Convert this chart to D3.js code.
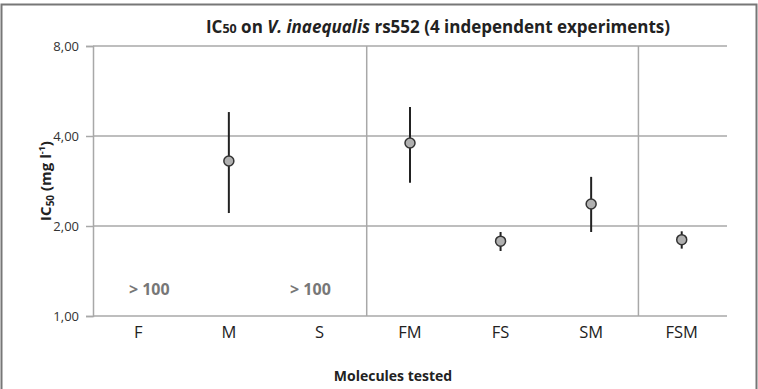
<!DOCTYPE html>
<html><head><meta charset="utf-8">
<script src="https://cdn.jsdelivr.net/npm/d3@7"></script>
<style>body{margin:0;background:#fff}svg{display:block}</style>
</head><body>
<script>
const categories = ["F","M","S","FM","FS","SM","FSM"];
const ic50 = [null, 3.30, null, 3.79, 1.78, 2.37, 1.80];
const errLow = [null, 2.21, null, 2.79, 1.65, 1.91, 1.68];
const errHigh = [null, 4.81, null, 5.00, 1.91, 2.92, 1.92];
const yTicks = [1, 2, 4, 8];
const noEffect = [{cat:"F", label:"> 100", v:1.23, dx:11}, {cat:"S", label:"> 100", v:1.23, dx:-9}];
const separators = [3, 6]; // band boundaries (category index)

const W = 758, H = 389;
const m = {l:93, r:31, t:46, b:73};
const svg = d3.select("body").append("svg").attr("width", W).attr("height", H);
const font = "'Open Sans', sans-serif";

// frame
svg.append("path").attr("d", `M1.5,${H} V4.5 H756.5 V${H}`).attr("fill","none").attr("stroke","#777").attr("stroke-width",2);

const x = d3.scaleBand().domain(categories).range([m.l, W - m.r]);
const y = d3.scaleLog().base(2).domain([1, 8]).range([H - m.b, m.t]);

// gridlines
svg.append("g").selectAll("line").data(yTicks).join("line")
  .attr("x1", m.l).attr("x2", W - m.r).attr("y1", d => y(d)).attr("y2", d => y(d))
  .attr("stroke", "#a8a8a8").attr("stroke-width", 1.5);

// y axis
const yAxis = svg.append("g").attr("transform", `translate(${m.l},0)`)
  .call(d3.axisLeft(y).tickValues(yTicks).tickFormat(d => d3.format(".2f")(d).replace(".", ",")).tickSize(7).tickPadding(7));
yAxis.select(".domain").attr("stroke", "#a8a8a8").attr("stroke-width", 1.5);
yAxis.selectAll(".tick line").attr("stroke", "#a8a8a8").attr("stroke-width", 1.5);
yAxis.selectAll("text").attr("font-family", font).attr("font-size", 13).attr("fill", "#333");

// separators
svg.append("g").selectAll("line").data(separators).join("line")
  .attr("x1", d => m.l + x.step() * d + 2).attr("x2", d => m.l + x.step() * d + 2)
  .attr("y1", m.t).attr("y2", H - m.b)
  .attr("stroke", "#a8a8a8").attr("stroke-width", 1.5);

// x axis labels
const xAxis = svg.append("g").attr("transform", `translate(0,${H - m.b})`)
  .call(d3.axisBottom(x).tickSize(0).tickPadding(10));
xAxis.select(".domain").remove();
xAxis.selectAll("text").attr("font-family", font).attr("font-size", 16.5).attr("fill", "#222");

// error bars
const pts = categories.map((c, i) => ({c, v: ic50[i], lo: errLow[i], hi: errHigh[i]})).filter(d => d.v != null);
svg.append("g").selectAll("line").data(pts).join("line")
  .attr("x1", d => x(d.c) + x.bandwidth()/2).attr("x2", d => x(d.c) + x.bandwidth()/2)
  .attr("y1", d => y(d.lo)).attr("y2", d => y(d.hi))
  .attr("stroke", "#222").attr("stroke-width", 2);
svg.append("g").selectAll("circle").data(pts).join("circle")
  .attr("cx", d => x(d.c) + x.bandwidth()/2).attr("cy", d => y(d.v)).attr("r", 5)
  .attr("fill", "#b0b0b0").attr("stroke", "#333").attr("stroke-width", 1.5);

// > 100 labels
svg.append("g").selectAll("text").data(noEffect).join("text")
  .attr("x", d => x(d.cat) + x.bandwidth()/2 + d.dx).attr("y", d => y(d.v)).attr("dy", "0.35em")
  .attr("text-anchor", "middle").attr("font-family", font).attr("font-weight", "bold")
  .attr("font-size", 16).attr("fill", "#777").text(d => d.label);

// title
const t = svg.append("text").attr("x", 438).attr("y", 33).attr("text-anchor", "middle")
  .attr("font-family", font).attr("font-weight", "bold").attr("font-size", 17).attr("fill", "#222");
t.append("tspan").text("IC");
t.append("tspan").attr("font-size", 12.5).text("50");
t.append("tspan").text(" on ");
t.append("tspan").attr("font-style", "italic").text("V. inaequalis");
t.append("tspan").text(" rs552 (4 independent experiments)");

// y label
const yl = svg.append("text").attr("transform", `translate(51,${(m.t + H - m.b)/2}) rotate(-90)`)
  .attr("text-anchor", "middle").attr("font-family", font).attr("font-weight", "bold")
  .attr("font-size", 15).attr("fill", "#222");
yl.append("tspan").text("IC");
yl.append("tspan").attr("font-size", 10).attr("dy", 3).text("50");
yl.append("tspan").attr("dy", -3).text(" (mg l");
yl.append("tspan").attr("font-size", 9).attr("dy", -6).text("-1");
yl.append("tspan").attr("dy", 6).text(")");

// x label
svg.append("text").attr("x", 393).attr("y", 381).attr("text-anchor", "middle")
  .attr("font-family", font).attr("font-weight", "bold").attr("font-size", 14).attr("fill", "#222")
  .text("Molecules tested");
</script>
</body></html>
